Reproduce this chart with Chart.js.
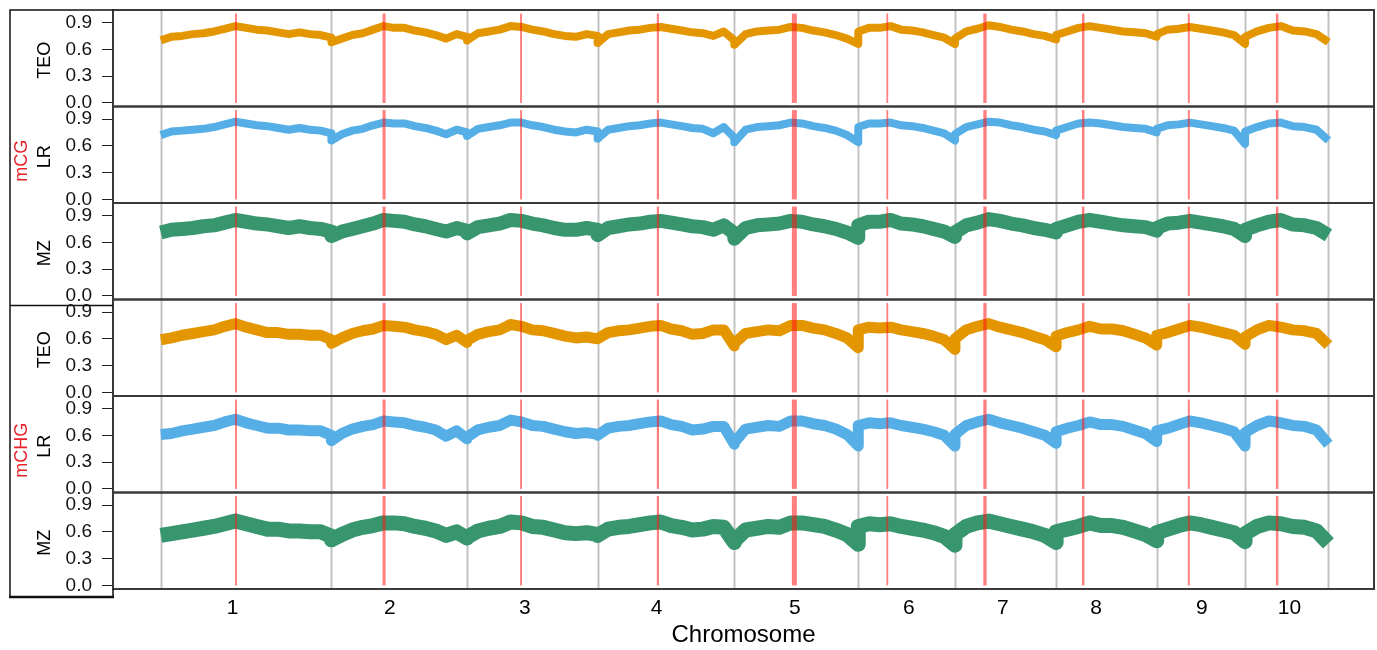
<!DOCTYPE html>
<html>
<head>
<meta charset="utf-8">
<script src="https://cdn.jsdelivr.net/npm/chart.js@4.4.1/dist/chart.umd.min.js"></script>
<style>
  html, body { margin: 0; padding: 0; background: #ffffff; }
  #wrap { position: relative; width: 1377px; height: 650px; }
  canvas { display: block; }
</style>
</head>
<body>
<div id="wrap"><canvas id="c" width="1377" height="650"></canvas></div>
<script>
// ---------------- data ----------------
const chromosomes = ['1','2','3','4','5','6','7','8','9','10'];
const chromLengthMb = [307, 244, 235, 246, 223, 174, 182, 181, 159, 150];
const centromereMb = [[133.5,137],[92,97.5],[95.5,99],[106.5,110.5],[103.5,112.5],[51,53.5],[51,57],[46.5,51],[56,59.5],[55.5,60]];
const labelPosMb = [129, 412, 655, 892, 1141, 1346, 1515, 1683, 1873, 2031];
const yTicks = [0.0, 0.3, 0.6, 0.9];
const panelNames = ['TEO', 'LR', 'MZ', 'TEO', 'LR', 'MZ'];
const contextNames = ['mCG', 'mCHG'];
const axisLabel = 'Chromosome';

// methylation level per bin, one inner array per chromosome
const mCG_TEO = [
  [0.70,0.74,0.75,0.77,0.78,0.80,0.83,0.86,0.84,0.82,0.81,0.79,0.77,0.79,0.77,0.76,0.73],
  [0.68,0.72,0.76,0.78,0.82,0.86,0.84,0.84,0.81,0.79,0.76,0.72,0.77,0.74],
  [0.70,0.78,0.80,0.82,0.86,0.85,0.82,0.80,0.77,0.75,0.74,0.77,0.75],
  [0.67,0.77,0.79,0.81,0.82,0.84,0.85,0.83,0.81,0.79,0.78,0.75,0.80,0.70],
  [0.65,0.77,0.80,0.81,0.82,0.85,0.84,0.81,0.79,0.76,0.72,0.66],
  [0.80,0.84,0.84,0.86,0.82,0.81,0.79,0.76,0.73,0.66],
  [0.72,0.80,0.83,0.87,0.85,0.82,0.80,0.77,0.75,0.71],
  [0.76,0.80,0.84,0.86,0.84,0.82,0.80,0.79,0.78,0.74],
  [0.77,0.82,0.83,0.85,0.83,0.81,0.79,0.76,0.66],
  [0.74,0.80,0.84,0.86,0.81,0.80,0.77,0.68]
];
const mCG_LR = [
  [0.72,0.76,0.77,0.78,0.79,0.81,0.84,0.87,0.85,0.83,0.82,0.80,0.78,0.80,0.78,0.77,0.74],
  [0.66,0.73,0.77,0.79,0.83,0.86,0.85,0.85,0.82,0.80,0.77,0.73,0.78,0.75],
  [0.71,0.79,0.81,0.83,0.86,0.86,0.83,0.81,0.78,0.76,0.75,0.78,0.76],
  [0.68,0.78,0.80,0.82,0.83,0.85,0.86,0.84,0.82,0.80,0.79,0.74,0.81,0.69],
  [0.64,0.78,0.81,0.82,0.83,0.86,0.85,0.82,0.80,0.77,0.72,0.64],
  [0.81,0.85,0.85,0.86,0.83,0.82,0.80,0.77,0.74,0.66],
  [0.73,0.81,0.84,0.87,0.86,0.83,0.81,0.78,0.76,0.72],
  [0.77,0.81,0.85,0.86,0.85,0.83,0.81,0.80,0.79,0.75],
  [0.79,0.83,0.84,0.86,0.84,0.82,0.80,0.77,0.62],
  [0.76,0.81,0.85,0.86,0.82,0.81,0.78,0.66]
];
const mCG_MZ = [
  [0.71,0.74,0.75,0.76,0.78,0.79,0.82,0.85,0.83,0.81,0.80,0.78,0.76,0.78,0.76,0.75,0.72],
  [0.67,0.72,0.75,0.78,0.81,0.85,0.84,0.83,0.80,0.78,0.75,0.72,0.76,0.73],
  [0.70,0.77,0.79,0.81,0.85,0.84,0.81,0.79,0.76,0.74,0.74,0.76,0.74],
  [0.68,0.76,0.78,0.80,0.81,0.83,0.84,0.82,0.80,0.78,0.77,0.74,0.79,0.70],
  [0.64,0.76,0.79,0.80,0.81,0.84,0.83,0.80,0.78,0.75,0.71,0.65],
  [0.79,0.83,0.83,0.85,0.81,0.80,0.78,0.75,0.72,0.66],
  [0.71,0.79,0.82,0.86,0.84,0.81,0.79,0.76,0.74,0.71],
  [0.75,0.79,0.83,0.85,0.83,0.81,0.79,0.78,0.77,0.73],
  [0.76,0.81,0.82,0.84,0.82,0.80,0.78,0.75,0.67],
  [0.74,0.79,0.83,0.85,0.80,0.79,0.76,0.68]
];
const mCHG_TEO = [
  [0.59,0.61,0.64,0.66,0.68,0.70,0.74,0.77,0.73,0.70,0.67,0.67,0.65,0.65,0.64,0.64,0.59],
  [0.55,0.61,0.66,0.69,0.71,0.75,0.74,0.73,0.70,0.68,0.65,0.59,0.64,0.56],
  [0.58,0.65,0.68,0.70,0.76,0.74,0.70,0.69,0.66,0.63,0.61,0.62,0.60],
  [0.60,0.67,0.69,0.70,0.72,0.74,0.75,0.71,0.69,0.65,0.66,0.70,0.70,0.52],
  [0.55,0.66,0.68,0.70,0.69,0.75,0.75,0.72,0.70,0.66,0.61,0.50],
  [0.70,0.73,0.72,0.73,0.70,0.68,0.66,0.63,0.59,0.48],
  [0.60,0.70,0.74,0.77,0.73,0.70,0.67,0.63,0.59,0.51],
  [0.63,0.67,0.70,0.74,0.71,0.71,0.69,0.65,0.61,0.53],
  [0.64,0.67,0.71,0.75,0.73,0.70,0.67,0.64,0.54],
  [0.62,0.70,0.75,0.73,0.70,0.69,0.66,0.53]
];
const mCHG_LR = [
  [0.61,0.62,0.65,0.67,0.69,0.71,0.75,0.78,0.74,0.71,0.68,0.68,0.66,0.66,0.65,0.65,0.60],
  [0.54,0.62,0.67,0.70,0.72,0.76,0.75,0.74,0.71,0.69,0.66,0.59,0.65,0.56],
  [0.58,0.66,0.69,0.71,0.77,0.75,0.71,0.70,0.67,0.64,0.62,0.63,0.61],
  [0.60,0.68,0.70,0.71,0.73,0.75,0.76,0.72,0.70,0.66,0.67,0.70,0.70,0.50],
  [0.52,0.67,0.69,0.71,0.70,0.76,0.76,0.73,0.71,0.67,0.61,0.48],
  [0.71,0.74,0.73,0.74,0.71,0.69,0.67,0.64,0.60,0.48],
  [0.61,0.71,0.75,0.78,0.74,0.71,0.68,0.64,0.60,0.51],
  [0.64,0.68,0.71,0.75,0.72,0.72,0.70,0.66,0.62,0.53],
  [0.65,0.68,0.72,0.76,0.74,0.71,0.68,0.64,0.48],
  [0.63,0.71,0.76,0.74,0.71,0.70,0.66,0.50]
];
const mCHG_MZ = [
  [0.56,0.58,0.60,0.62,0.64,0.66,0.69,0.72,0.69,0.66,0.63,0.63,0.61,0.61,0.60,0.60,0.55],
  [0.51,0.57,0.62,0.65,0.67,0.70,0.70,0.69,0.66,0.64,0.61,0.56,0.60,0.53],
  [0.54,0.61,0.64,0.66,0.71,0.70,0.66,0.65,0.62,0.59,0.58,0.59,0.57],
  [0.56,0.63,0.65,0.66,0.68,0.70,0.71,0.67,0.65,0.62,0.63,0.66,0.65,0.48],
  [0.50,0.62,0.64,0.66,0.65,0.70,0.70,0.68,0.66,0.62,0.57,0.46],
  [0.66,0.69,0.68,0.69,0.66,0.64,0.62,0.59,0.55,0.45],
  [0.57,0.66,0.70,0.72,0.69,0.66,0.63,0.60,0.56,0.48],
  [0.60,0.63,0.66,0.70,0.67,0.67,0.65,0.61,0.57,0.50],
  [0.59,0.63,0.67,0.70,0.68,0.65,0.62,0.59,0.49],
  [0.58,0.66,0.70,0.69,0.66,0.65,0.61,0.47]
];

// ---------------- derived ----------------
const chromStartMb = [];
(function(){ let acc = 0; chromLengthMb.forEach(l => { chromStartMb.push(acc); acc += l; }); chromStartMb.push(acc); })();

function toPoints(series) {
  const pts = [];
  series.forEach((vals, c) => {
    const n = vals.length;
    vals.forEach((v, i) => pts.push({ x: chromStartMb[c] + chromLengthMb[c] * i / (n - 1), y: v }));
  });
  return pts;
}

const FONT = "'Liberation Sans', Arial, Helvetica, sans-serif";
Chart.defaults.font.family = FONT;

const colTEO = '#E49600', colLR = '#55AFE6', colMZ = '#38966E';
const panelKeys = ['p0','p1','p2','p3','p4','p5'];
const seriesDefs = [
  { data: mCG_TEO,  color: colTEO, w: 8 },
  { data: mCG_LR,   color: colLR,  w: 8 },
  { data: mCG_MZ,   color: colMZ,  w: 14 },
  { data: mCHG_TEO, color: colTEO, w: 11 },
  { data: mCHG_LR,  color: colLR,  w: 11 },
  { data: mCHG_MZ,  color: colMZ,  w: 15 }
];

const datasets = seriesDefs.map((s, i) => ({
  label: contextNames[i < 3 ? 0 : 1] + ' ' + panelNames[i],
  data: toPoints(s.data),
  yAxisID: panelKeys[i],
  xAxisID: 'x',
  borderColor: s.color,
  backgroundColor: s.color,
  borderWidth: s.w,
  pointRadius: 0,
  tension: 0,
  fill: false
}));

const scales = {
  x: {
    type: 'linear', position: 'bottom', bounds: 'data',
    min: -86, max: 2183,
    afterBuildTicks: s => { s.ticks = labelPosMb.map(v => ({ value: v })); },
    afterFit: s => { s.height = 61; s.paddingLeft = 0; s.paddingRight = 0; },
    ticks: { autoSkip: false, maxRotation: 0, minRotation: 0, padding: 7, color: '#000',
             font: { size: 21 }, callback: (v, i) => chromosomes[i] },
    grid: { display: false, drawTicks: false },
    border: { display: false },
    title: { display: true, text: axisLabel, color: '#000', font: { size: 24 }, padding: 0 }
  }
};
// stacked left axes are laid out last-defined-first, so define bottom panel first
panelKeys.slice().reverse().forEach(k => {
  scales[k] = {
    type: 'linear', position: 'left', stack: 'rows', stackWeight: 1, bounds: 'data',
    min: -0.04, max: 1.04,
    afterBuildTicks: s => { s.ticks = yTicks.map(v => ({ value: v })); },
    afterFit: s => { s.width = 113; s.paddingTop = 0; s.paddingBottom = 0; },
    ticks: { autoSkip: false, color: '#111', padding: 10, font: { size: 19 }, callback: v => v.toFixed(1) },
    grid: { drawOnChartArea: false, drawTicks: true, tickLength: 11, color: '#222', lineWidth: 1 },
    border: { display: true, color: '#222', width: 1.5 }
  };
});

const decor = {
  id: 'decor',
  beforeDatasetsDraw(chart) {
    const { ctx } = chart;
    const xs = chart.scales.x;
    ctx.save();
    ctx.strokeStyle = '#c2c2c2';
    ctx.lineWidth = 2;
    panelKeys.forEach(k => {
      const ys = chart.scales[k];
      chromStartMb.forEach(b => {
        const px = Math.round(xs.getPixelForValue(b)) + 0.5;
        ctx.beginPath(); ctx.moveTo(px, ys.top); ctx.lineTo(px, ys.bottom); ctx.stroke();
      });
    });
    ctx.restore();
  },
  afterDatasetsDraw(chart) {
    const { ctx, chartArea } = chart;
    const xs = chart.scales.x;
    ctx.save();
    // centromeres
    ctx.fillStyle = 'rgba(255,20,20,0.55)';
    panelKeys.forEach(k => {
      const ys = chart.scales[k];
      const yT = ys.getPixelForValue(1), yB = ys.getPixelForValue(0);
      centromereMb.forEach(([s, e], i) => {
        const x1 = xs.getPixelForValue(chromStartMb[i] + s);
        const x2 = xs.getPixelForValue(chromStartMb[i] + e);
        const w = Math.max(x2 - x1, 1.8);
        ctx.fillRect((x1 + x2) / 2 - w / 2, yT, w, yB - yT);
      });
    });
    // panel boxes
    ctx.strokeStyle = '#3a3a3a';
    ctx.lineWidth = 2;
    panelKeys.forEach(k => {
      const ys = chart.scales[k];
      ctx.strokeRect(chartArea.left, ys.top, chartArea.right - chartArea.left, ys.bottom - ys.top);
    });
    // left frame
    const fl = 10, ft = chartArea.top, fb = chartArea.bottom + 8, fr = chartArea.left;
    ctx.strokeStyle = '#111';
    ctx.lineWidth = 1.5;
    ctx.beginPath();
    ctx.moveTo(fr, ft); ctx.lineTo(fl, ft); ctx.lineTo(fl, fb);
    ctx.moveTo(fr, chartArea.bottom); ctx.lineTo(fr, fb);
    const sepY = chart.scales.p3.top + 6;
    ctx.moveTo(fl, sepY); ctx.lineTo(fr, sepY);
    ctx.stroke();
    ctx.lineWidth = 2.5;
    ctx.beginPath(); ctx.moveTo(fl - 1, fb); ctx.lineTo(fr + 1, fb); ctx.stroke();
    // panel labels
    ctx.textAlign = 'center';
    ctx.textBaseline = 'middle';
    panelKeys.forEach((k, i) => {
      const ys = chart.scales[k];
      const cy = (ys.top + ys.bottom) / 2 + 2;
      ctx.save();
      ctx.translate(45, cy);
      ctx.rotate(-Math.PI / 2);
      ctx.fillStyle = '#000';
      ctx.font = '18px ' + FONT;
      ctx.fillText(panelNames[i], 0, 0);
      ctx.restore();
    });
    [['p1', 0], ['p4', 1]].forEach(([k, ci]) => {
      const ys = chart.scales[k];
      const cy = (ys.top + ys.bottom) / 2 + 6;
      ctx.save();
      ctx.translate(22, cy);
      ctx.rotate(-Math.PI / 2);
      ctx.fillStyle = '#e8242a';
      ctx.font = '18px ' + FONT;
      ctx.fillText(contextNames[ci], 0, 0);
      ctx.restore();
    });
    ctx.restore();
  }
};

new Chart(document.getElementById('c'), {
  type: 'line',
  data: { datasets },
  options: {
    responsive: false,
    animation: false,
    parsing: true,
    layout: { padding: { left: 0, right: 3, top: 10, bottom: 0 } },
    plugins: { legend: { display: false }, tooltip: { enabled: false } },
    elements: { line: { borderJoinStyle: 'round', borderCapStyle: 'butt' } },
    scales
  },
  plugins: [decor]
});
</script>
</body>
</html>
